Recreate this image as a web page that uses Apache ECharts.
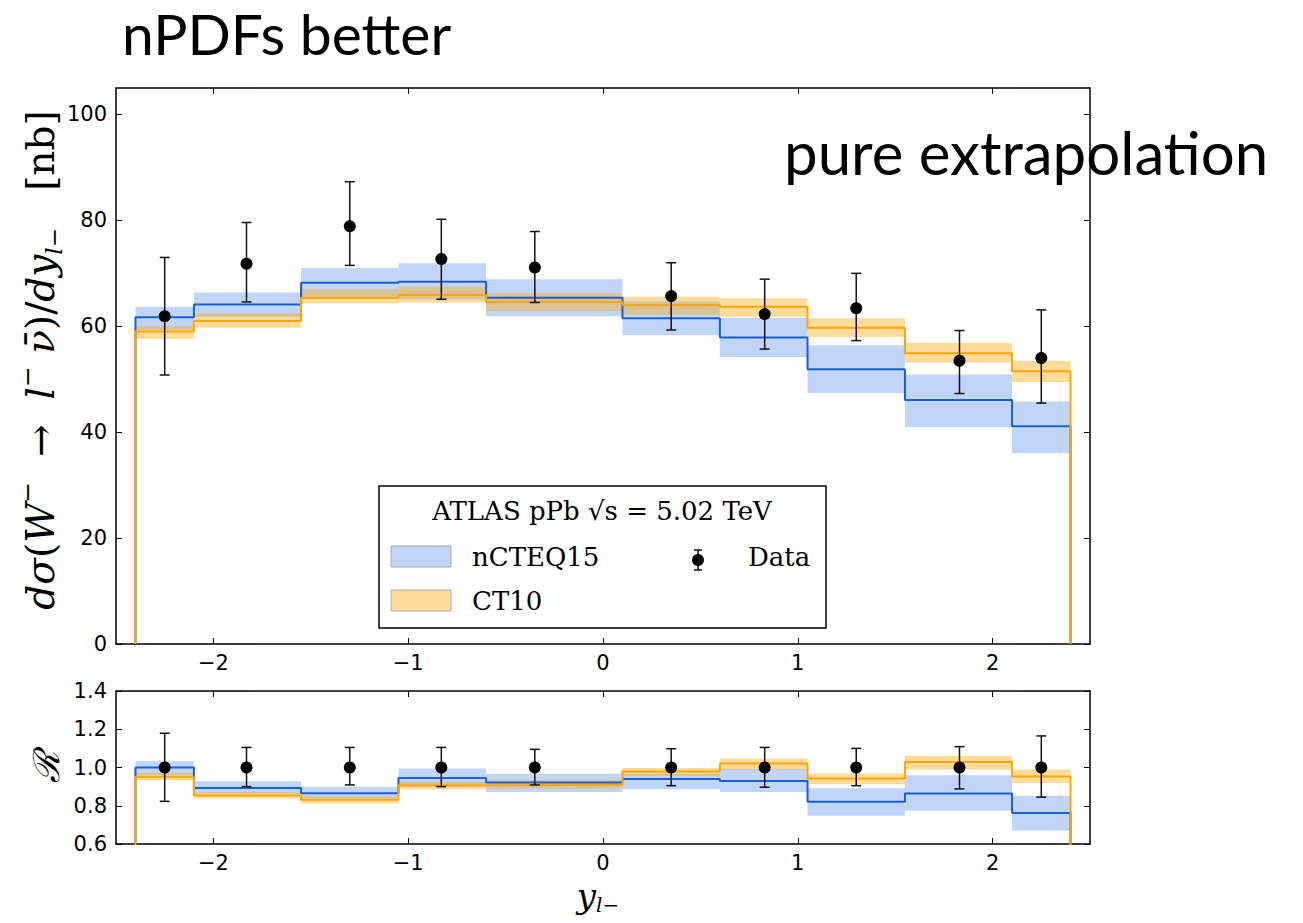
<!DOCTYPE html>
<html>
<head>
<meta charset="utf-8">
<title>nPDFs better</title>
<script src="https://cdn.jsdelivr.net/npm/echarts@6.0.0/dist/echarts.min.js"></script>
<style>
  html, body { margin: 0; padding: 0; background: #fff; }
  #main { width: 1303px; height: 923px; }
</style>
</head>
<body>
<div id="main"></div>
<script>
// bin edges in y_l- (10 bins)
var binEdges = [-2.4, -2.1, -1.55, -1.05, -0.6, 0.1, 0.6, 1.05, 1.55, 2.1, 2.4];

// top panel: d sigma / dy [nb]
var nctCentral = [61.7, 64.1, 68.2, 68.4, 65.4, 61.5, 57.9, 51.9, 46.1, 41.1];
var nctLow     = [59.3, 61.8, 65.6, 65.1, 61.9, 58.3, 54.2, 47.4, 41.0, 36.0];
var nctHigh    = [63.7, 66.4, 71.0, 71.9, 68.9, 64.7, 61.6, 56.4, 50.9, 45.8];
var ctCentral  = [59.0, 61.0, 65.4, 65.9, 64.6, 64.0, 63.7, 59.7, 54.9, 51.5];
var ctLow      = [57.6, 59.7, 64.3, 64.5, 62.9, 62.2, 61.8, 58.0, 53.1, 49.5];
var ctHigh     = [60.0, 62.4, 67.0, 67.5, 66.2, 65.6, 65.3, 61.5, 56.9, 53.5];

// data points
var dataX   = [-2.25, -1.83, -1.30, -0.83, -0.35, 0.35, 0.83, 1.30, 1.83, 2.25];
var dataVal = [61.9, 71.8, 78.9, 72.7, 71.1, 65.7, 62.3, 63.4, 53.5, 54.0];
var dataLo  = [50.8, 64.6, 71.5, 65.1, 64.5, 59.3, 55.7, 57.3, 47.3, 45.5];
var dataHi  = [73.0, 79.6, 87.3, 80.2, 77.9, 72.0, 68.9, 70.0, 59.2, 63.1];

// bottom panel: ratio R
var nctRatio     = [1.000, 0.893, 0.866, 0.945, 0.921, 0.940, 0.929, 0.821, 0.864, 0.762];
var nctRatioLow  = [0.959, 0.864, 0.838, 0.900, 0.872, 0.886, 0.872, 0.748, 0.774, 0.671];
var nctRatioHigh = [1.033, 0.928, 0.900, 0.995, 0.967, 0.967, 0.993, 0.891, 0.959, 0.852];
var ctRatio      = [0.952, 0.854, 0.831, 0.907, 0.910, 0.979, 1.021, 0.943, 1.029, 0.953];
var ctRatioLow   = [0.934, 0.838, 0.812, 0.886, 0.890, 0.955, 0.990, 0.912, 0.990, 0.919];
var ctRatioHigh  = [0.973, 0.872, 0.848, 0.926, 0.934, 0.998, 1.047, 0.969, 1.062, 0.990];
var dataRatio    = [1, 1, 1, 1, 1, 1, 1, 1, 1, 1];
var dataRatioLo  = [0.823, 0.900, 0.909, 0.900, 0.909, 0.905, 0.897, 0.905, 0.888, 0.845];
var dataRatioHi  = [1.179, 1.105, 1.105, 1.105, 1.095, 1.098, 1.105, 1.100, 1.109, 1.165];

var xTicks = [-2, -1, 0, 1, 2];
var yTopTicks = [0, 20, 40, 60, 80, 100];

var BLUE_LINE = '#1a5fd0';
var BLUE_BAND = 'rgba(100,149,237,0.4)';
var ORANGE_LINE = '#ffa500';
var ORANGE_BAND = 'rgba(255,165,0,0.4)';
var TICK_FONT = '"DejaVu Sans", sans-serif';
var SERIF = '"DejaVu Serif", "Liberation Serif", serif';

// step outline: from 0 at the first edge, along every bin, back down to 0
function stepPoints(vals) {
    var pts = [[binEdges[0], 0]];
    for (var i = 0; i < vals.length; i++) {
        pts.push([binEdges[i], vals[i]]);
        pts.push([binEdges[i + 1], vals[i]]);
    }
    pts.push([binEdges[binEdges.length - 1], 0]);
    return pts;
}

function bandRows(lo, hi) {
    var rows = [];
    for (var i = 0; i < lo.length; i++) {
        rows.push([binEdges[i], binEdges[i + 1], lo[i], hi[i]]);
    }
    return rows;
}

function errRows(lo, hi) {
    var rows = [];
    for (var i = 0; i < dataX.length; i++) rows.push([dataX[i], lo[i], hi[i]]);
    return rows;
}

function pointRows(vals) {
    var rows = [];
    for (var i = 0; i < dataX.length; i++) rows.push([dataX[i], vals[i]]);
    return rows;
}

function renderBand(color) {
    return function (params, api) {
        var p0 = api.coord([api.value(0), api.value(3)]);
        var p1 = api.coord([api.value(1), api.value(2)]);
        return {
            type: 'rect',
            shape: { x: p0[0], y: p0[1], width: p1[0] - p0[0], height: p1[1] - p0[1] },
            style: { fill: color }
        };
    };
}

function renderErr(params, api) {
    var top = api.coord([api.value(0), api.value(2)]);
    var bot = api.coord([api.value(0), api.value(1)]);
    var st = { stroke: '#111', lineWidth: 1.5 };
    return {
        type: 'group',
        children: [
            { type: 'line', shape: { x1: top[0], y1: top[1], x2: bot[0], y2: bot[1] }, style: st },
            { type: 'line', shape: { x1: top[0] - 5, y1: top[1], x2: top[0] + 5, y2: top[1] }, style: st },
            { type: 'line', shape: { x1: bot[0] - 5, y1: bot[1], x2: bot[0] + 5, y2: bot[1] }, style: st }
        ]
    };
}

function xFmt(v) {
    return v < 0 ? '\u2212' + (-v) : String(v);
}

function makeX(gridIndex, pos, showLabel) {
    return {
        type: 'value', gridIndex: gridIndex, position: pos,
        min: -2.5, max: 2.5,
        axisLine: { show: true, onZero: false, lineStyle: { color: '#000', width: 1.5 } },
        axisTick: { show: true, inside: true, length: 6, lineStyle: { color: '#000', width: 1 }, customValues: xTicks },
        axisLabel: { show: showLabel, customValues: xTicks, formatter: xFmt, color: '#000',
                     fontFamily: TICK_FONT, fontSize: 21, margin: 8 },
        splitLine: { show: false }
    };
}

function makeY(gridIndex, pos, showLabel, opts) {
    var ax = {
        type: 'value', gridIndex: gridIndex, position: pos,
        min: opts.min, max: opts.max,
        axisLine: { show: true, onZero: false, lineStyle: { color: '#000', width: 1.5 } },
        axisTick: { show: true, inside: true, length: 6, lineStyle: { color: '#000', width: 1 } },
        axisLabel: { show: showLabel, color: '#000', fontFamily: TICK_FONT, fontSize: 21, margin: 9,
                     formatter: opts.fmt },
        splitLine: { show: false }
    };
    if (opts.ticks) {
        ax.axisTick.customValues = opts.ticks;
        ax.axisLabel.customValues = opts.ticks;
    } else {
        ax.interval = opts.interval;
    }
    return ax;
}

var topY = { min: 0, max: 105, ticks: yTopTicks, fmt: function (v) { return String(v); } };
var botY = { min: 0.6, max: 1.4, interval: 0.2, fmt: function (v) { return v.toFixed(1); } };

var chart = echarts.init(document.getElementById('main'), null, { renderer: 'svg' });

var legendFont = '26px ' + SERIF;

var option = {
    backgroundColor: '#fff',
    animation: false,
    grid: [
        { left: 116, right: 213, top: 88, height: 556 },
        { left: 116, right: 213, top: 691, height: 153 }
    ],
    xAxis: [
        makeX(0, 'bottom', true),
        makeX(1, 'bottom', true),
        makeX(0, 'top', false),
        makeX(1, 'top', false)
    ],
    yAxis: [
        makeY(0, 'left', true, topY),
        makeY(1, 'left', true, botY),
        makeY(0, 'right', false, topY),
        makeY(1, 'right', false, botY)
    ],
    series: [
        // top panel
        { type: 'custom', name: 'nCTEQ15 band', xAxisIndex: 0, yAxisIndex: 0, renderItem: renderBand(BLUE_BAND),
          data: bandRows(nctLow, nctHigh), z: 1 },
        { type: 'custom', name: 'CT10 band', xAxisIndex: 0, yAxisIndex: 0, renderItem: renderBand(ORANGE_BAND),
          data: bandRows(ctLow, ctHigh), z: 1 },
        { type: 'line', name: 'nCTEQ15', xAxisIndex: 0, yAxisIndex: 0, data: stepPoints(nctCentral),
          symbol: 'none', lineStyle: { color: BLUE_LINE, width: 2 }, z: 2 },
        { type: 'line', name: 'CT10', xAxisIndex: 0, yAxisIndex: 0, data: stepPoints(ctCentral),
          symbol: 'none', lineStyle: { color: ORANGE_LINE, width: 2 }, z: 3 },
        { type: 'custom', name: 'Data err', xAxisIndex: 0, yAxisIndex: 0, renderItem: renderErr,
          data: errRows(dataLo, dataHi), z: 4 },
        { type: 'scatter', name: 'Data', xAxisIndex: 0, yAxisIndex: 0, data: pointRows(dataVal),
          symbol: 'circle', symbolSize: 12, itemStyle: { color: '#000', opacity: 1 }, z: 5 },
        // bottom panel
        { type: 'custom', name: 'nCTEQ15 ratio band', xAxisIndex: 1, yAxisIndex: 1, renderItem: renderBand(BLUE_BAND),
          data: bandRows(nctRatioLow, nctRatioHigh), z: 1 },
        { type: 'custom', name: 'CT10 ratio band', xAxisIndex: 1, yAxisIndex: 1, renderItem: renderBand(ORANGE_BAND),
          data: bandRows(ctRatioLow, ctRatioHigh), z: 1 },
        { type: 'line', name: 'nCTEQ15 ratio', xAxisIndex: 1, yAxisIndex: 1, data: stepPoints(nctRatio),
          symbol: 'none', lineStyle: { color: BLUE_LINE, width: 2 }, z: 2 },
        { type: 'line', name: 'CT10 ratio', xAxisIndex: 1, yAxisIndex: 1, data: stepPoints(ctRatio),
          symbol: 'none', lineStyle: { color: ORANGE_LINE, width: 2 }, z: 3 },
        { type: 'custom', name: 'Data ratio err', xAxisIndex: 1, yAxisIndex: 1, renderItem: renderErr,
          data: errRows(dataRatioLo, dataRatioHi), z: 4 },
        { type: 'scatter', name: 'Data ratio', xAxisIndex: 1, yAxisIndex: 1, data: pointRows(dataRatio),
          symbol: 'circle', symbolSize: 12, itemStyle: { color: '#000', opacity: 1 }, z: 5 }
    ],
    graphic: [
        // slide texts
        { type: 'text', left: 122, top: 4, z: 100,
          style: { text: 'nPDFs better', fill: '#000', font: '57px Lato, "Open Sans", sans-serif' } },
        { type: 'text', left: 784, top: 122, z: 100,
          style: { text: 'pure extrapolation', fill: '#000', font: '60px Lato, "Open Sans", sans-serif' } },
        // y label, top panel
        { type: 'text', x: 40, y: 360, rotation: Math.PI / 2, z: 100,
          style: {
              text: '{i|dσ}{u|(}{i|W}{s|−}{u|  →  }{i|l}{s|−}{u| }{i|ν̄}{u|)/}{i|dy}{b|l−}{u|   [nb]}',
              align: 'center', verticalAlign: 'middle', fill: '#000',
              rich: {
                  i: { fontFamily: SERIF, fontStyle: 'italic', fontSize: 39, lineHeight: 50 },
                  u: { fontFamily: SERIF, fontSize: 39, lineHeight: 50 },
                  s: { fontFamily: SERIF, fontSize: 25, verticalAlign: 'top', lineHeight: 50 },
                  b: { fontFamily: SERIF, fontStyle: 'italic', fontSize: 23, verticalAlign: 'bottom', lineHeight: 42 }
              }
          } },
        // y label, bottom panel
        { type: 'text', x: 46, y: 767, rotation: Math.PI / 2, z: 100,
          style: { text: 'ℛ', align: 'center', verticalAlign: 'middle', fill: '#000',
                   font: 'italic 36px "DejaVu Serif", serif' } },
        // x label
        { type: 'text', x: 598, y: 896, z: 100,
          style: {
              text: '{m|y}{b|l−}', align: 'center', verticalAlign: 'middle', fill: '#000',
              rich: {
                  m: { fontFamily: SERIF, fontStyle: 'italic', fontSize: 34, lineHeight: 38 },
                  b: { fontFamily: SERIF, fontStyle: 'italic', fontSize: 20, verticalAlign: 'bottom', lineHeight: 28 }
              }
          } },
        // legend box
        { type: 'rect', z: 100, shape: { x: 379, y: 486, width: 447, height: 142 },
          style: { fill: '#fff', stroke: '#000', lineWidth: 1.5 } },
        { type: 'text', x: 602, y: 511, z: 101,
          style: { text: 'ATLAS pPb √s = 5.02 TeV', align: 'center', verticalAlign: 'middle',
                   fill: '#000', font: legendFont } },
        { type: 'rect', z: 101, shape: { x: 391, y: 546, width: 60, height: 21 },
          style: { fill: BLUE_BAND, stroke: '#aaa', lineWidth: 1 } },
        { type: 'text', x: 472, y: 557, z: 101,
          style: { text: 'nCTEQ15', align: 'left', verticalAlign: 'middle', fill: '#000', font: legendFont } },
        { type: 'rect', z: 101, shape: { x: 391, y: 590, width: 60, height: 21 },
          style: { fill: ORANGE_BAND, stroke: '#aaa', lineWidth: 1 } },
        { type: 'text', x: 472, y: 601, z: 101,
          style: { text: 'CT10', align: 'left', verticalAlign: 'middle', fill: '#000', font: legendFont } },
        { type: 'line', z: 101, shape: { x1: 698, y1: 550, x2: 698, y2: 570 }, style: { stroke: '#111', lineWidth: 1.5 } },
        { type: 'line', z: 101, shape: { x1: 694, y1: 550, x2: 702, y2: 550 }, style: { stroke: '#111', lineWidth: 1.5 } },
        { type: 'line', z: 101, shape: { x1: 694, y1: 570, x2: 702, y2: 570 }, style: { stroke: '#111', lineWidth: 1.5 } },
        { type: 'circle', z: 101, shape: { cx: 698, cy: 560, r: 6 }, style: { fill: '#000' } },
        { type: 'text', x: 748, y: 557, z: 101,
          style: { text: 'Data', align: 'left', verticalAlign: 'middle', fill: '#000', font: legendFont } }
    ]
};

chart.setOption(option);
</script>
</body>
</html>
